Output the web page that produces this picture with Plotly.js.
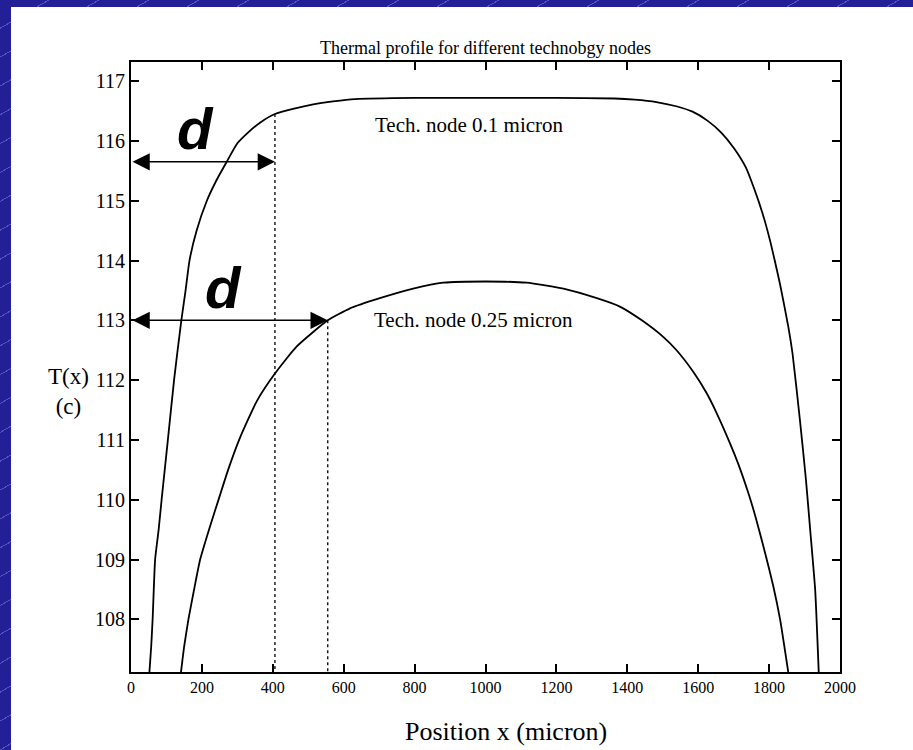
<!DOCTYPE html>
<html>
<head>
<meta charset="utf-8">
<script src="https://cdn.plot.ly/plotly-3.0.1.min.js"></script>
<style>
  html, body { margin: 0; padding: 0; width: 913px; height: 750px; overflow: hidden; background: #ffffff; }
  /* blue slide frame with faint diagonal stripes along the top and left edges */
  .frame {
    position: absolute;
    background-color: #231f96;
    background-image: repeating-linear-gradient(150deg, rgba(0,0,0,0) 0px, rgba(0,0,0,0) 24px,
      rgba(125, 130, 220, 0.55) 24px, rgba(125, 130, 220, 0.55) 25px);
    background-attachment: fixed;
  }
  #frame-left { left: 0; top: 0; width: 11px; height: 750px; }
  #frame-top { left: 0; top: 0; width: 913px; height: 7px; }
  #chart { position: absolute; left: 11px; top: 7px; width: 902px; height: 743px; background: #ffffff; }
</style>
</head>
<body>
<div class="frame" id="frame-left"></div>
<div class="frame" id="frame-top"></div>
<div id="chart"></div>
<script>
// Steady-state temperature along the die, x in micron, T in degrees C.
const positionNode01 = [52, 57, 61, 68, 78, 87, 104, 122, 142, 154, 165, 185, 214, 240, 270, 300, 330, 365, 406, 460, 514, 570, 632, 800, 1000, 1200, 1364, 1421, 1482, 1538, 1584, 1626, 1665, 1702, 1735, 1758, 1782, 1802, 1814, 1831, 1854, 1866, 1887, 1904, 1916, 1930, 1940];
const tempNode01 = [107.12, 107.55, 108.0, 109.0, 109.5, 110.04, 111.0, 112.03, 113.0, 113.5, 114.0, 114.5, 115.0, 115.33, 115.65, 115.96, 116.14, 116.31, 116.45, 116.54, 116.61, 116.66, 116.7, 116.72, 116.72, 116.72, 116.71, 116.69, 116.65, 116.58, 116.49, 116.34, 116.14, 115.87, 115.55, 115.2, 114.78, 114.35, 114.05, 113.6, 112.9, 112.45, 111.33, 110.33, 109.49, 108.49, 107.12];

const positionNode025 = [141, 150, 162, 178, 195, 220, 249, 274, 307, 355, 406, 467, 555, 618, 702, 796, 881, 1000, 1116, 1220, 1314, 1379, 1441, 1502, 1539, 1586, 1624, 1652, 1690, 1713, 1741, 1760, 1784, 1812, 1831, 1854];
const tempNode025 = [107.12, 107.55, 108.0, 108.5, 109.0, 109.5, 110.04, 110.5, 111.03, 111.65, 112.11, 112.56, 113.0, 113.2, 113.37, 113.53, 113.63, 113.65, 113.63, 113.53, 113.37, 113.23, 113.0, 112.72, 112.5, 112.14, 111.78, 111.45, 110.94, 110.6, 110.12, 109.75, 109.22, 108.55, 108.0, 107.12];

const probeX = [406, 555];
const probeT = [116.45, 113.0];
const arrowT = [115.65, 113.0];

const nodeLabels = ['Tech. node 0.1 micron', 'Tech. node 0.25 micron'];
const xTickVals = [0, 200, 400, 600, 800, 1000, 1200, 1400, 1600, 1800, 2000];
const yTickVals = [108, 109, 110, 111, 112, 113, 114, 115, 116, 117];

const yMin = 107.12, yMax = 117.32;
const serif = '"Liberation Serif", "Times New Roman", serif';

// chart panel sits at (11, 7) on the page; plot area geometry in page pixels
const panelL = 11, panelT = 7, panelW = 902, panelH = 743;
const plotL = 131, plotW = 709, plotT = 62, plotH = 610, plotB = plotT + plotH;
const px2paperX = p => (p - plotL) / plotW;
const px2paperY = p => (plotB - p) / plotH;

const curveLine = { color: '#000000', width: 1.8, shape: 'spline', smoothing: 0.5 };

const traces = [
  { x: positionNode01, y: tempNode01, type: 'scatter', mode: 'lines', line: curveLine, name: nodeLabels[0], hoverinfo: 'x+y' },
  { x: positionNode025, y: tempNode025, type: 'scatter', mode: 'lines', line: curveLine, name: nodeLabels[1], hoverinfo: 'x+y' }
];
// dotted drop lines from each probe point to the x axis
probeX.forEach((px, i) => {
  traces.push({
    x: [px, px], y: [probeT[i], yMin], type: 'scatter', mode: 'lines',
    line: { color: '#000000', width: 1.3, dash: 'dot' }, hoverinfo: 'skip', showlegend: false
  });
});

const dFont = { family: 'Arial, "Liberation Sans", sans-serif', size: 58, color: '#000000' };
const labelFont = { family: serif, size: 21, color: '#000000' };

const annotations = [
  // double-headed arrows marking d
  ...probeX.map((px, i) => ({
    x: px, y: arrowT[i], ax: 0, ay: arrowT[i], xref: 'x', yref: 'y', axref: 'x', ayref: 'y',
    text: '', showarrow: true, arrowhead: 2, startarrowhead: 2, arrowside: 'end+start',
    arrowsize: 2.3, startarrowsize: 2.3, arrowwidth: 1.5, arrowcolor: '#000000', standoff: 0, startstandoff: 0
  })),
  { x: 182, y: 116.2, xref: 'x', yref: 'y', text: '<b><i>d</i></b>', showarrow: false, font: dFont },
  { x: 262, y: 113.55, xref: 'x', yref: 'y', text: '<b><i>d</i></b>', showarrow: false, font: dFont },
  { x: 956, y: 116.26, xref: 'x', yref: 'y', text: nodeLabels[0], showarrow: false, font: labelFont },
  { x: 967, y: 113.0, xref: 'x', yref: 'y', text: nodeLabels[1], showarrow: false, font: labelFont },
  // horizontal y-axis label
  { x: px2paperX(68), y: px2paperY(392), xref: 'paper', yref: 'paper', xanchor: 'center', yanchor: 'middle',
    text: 'T(x)<br>(c)', showarrow: false, font: { family: serif, size: 23, color: '#000000' } },
  // x-axis label
  { x: px2paperX(506), y: px2paperY(731), xref: 'paper', yref: 'paper', xanchor: 'center', yanchor: 'middle',
    text: 'Position x (micron)', showarrow: false, font: { family: serif, size: 26, color: '#000000' } }
];

const layout = {
  width: panelW, height: panelH,
  margin: { l: plotL - panelL, r: panelL + panelW - plotL - plotW, t: plotT - panelT, b: panelT + panelH - plotB },
  paper_bgcolor: '#ffffff',
  plot_bgcolor: '#ffffff',
  showlegend: false,
  title: {
    text: 'Thermal profile for different technobgy nodes',
    font: { family: serif, size: 18, color: '#000000' },
    x: 0.5, xref: 'paper', xanchor: 'center', y: 1 - (48 - panelT) / panelH, yanchor: 'middle'
  },
  xaxis: {
    range: [0, 2000], tickvals: xTickVals, ticktext: xTickVals.map(String),
    showgrid: false, zeroline: false, showline: true, linecolor: '#000000', linewidth: 2, mirror: 'allticks',
    ticks: 'inside', ticklen: 8, tickwidth: 2, tickcolor: '#000000',
    tickfont: { family: serif, size: 16, color: '#000000' }
  },
  yaxis: {
    range: [yMin, yMax], tickvals: yTickVals, ticktext: yTickVals.map(String),
    showgrid: false, zeroline: false, showline: true, linecolor: '#000000', linewidth: 2, mirror: 'allticks',
    ticks: 'inside', ticklen: 8, tickwidth: 2, tickcolor: '#000000',
    tickfont: { family: serif, size: 20, color: '#000000' }
  },
  annotations: annotations
};

Plotly.newPlot('chart', traces, layout, { displayModeBar: false, staticPlot: true });
</script>
</body>
</html>
